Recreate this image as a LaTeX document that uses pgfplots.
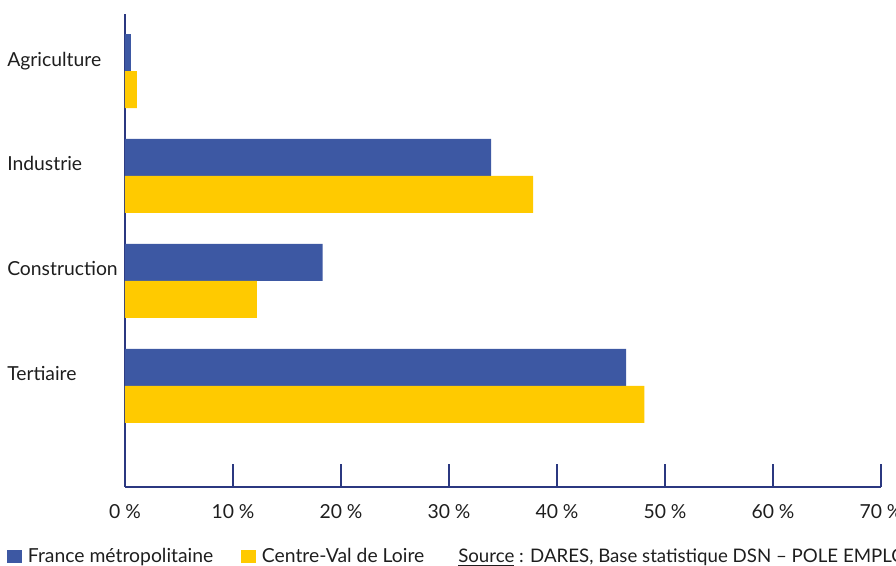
\documentclass[border=0pt]{standalone}
\usepackage{fontspec}
\setmainfont{Lato}
\usepackage{pgfplots}
\pgfplotsset{compat=1.18}
\definecolor{fblue}{HTML}{3D58A3}
\definecolor{cyellow}{HTML}{FFCA00}
\definecolor{navy}{HTML}{2B3880}
\definecolor{txt}{HTML}{1E1E1E}
\begin{document}
\fontsize{14.5}{16}\selectfont
\begin{tikzpicture}[font=\fontsize{14.5}{16}\selectfont, text=txt]
\begin{axis}[
  name=ax, scale only axis, width=567pt, height=354.75pt,
  xbar, bar width=27.75pt,
  xmin=0, xmax=70, ymin=-0.962, ymax=3.543,
  axis lines=left, axis line style={-, navy, line width=1.9pt},
  tick align=inside, major tick length=17.6pt,
  xtick={0,10,...,70},
  xticklabels={0 \%,10 \%,20 \%,30 \%,40 \%,50 \%,60 \%,70 \%},
  x tick style={navy, line width=1.8pt},
  ytick={0,1,2,3},
  yticklabels={Tertiaire,Construction,Industrie,Agriculture},
  y tick style={draw=none},
  xticklabel style={anchor=base, inner sep=0pt, yshift=-24pt},
  yticklabel style={anchor=base west, inner sep=0pt, xshift=-88.5pt, yshift=3.75pt},
  legend columns=2,
  legend style={at={(rel axis cs:0,0)}, anchor=north west, xshift=-88.5pt, yshift=-44pt,
    draw=none, fill=none, inner sep=0pt,
    /tikz/every even column/.append style={column sep=19pt}},
  legend image code/.code={\fill[#1] (0pt,-4.75pt) rectangle (11.25pt,5.25pt); \path (13.5pt,0pt);},
]
\addplot[fill=fblue, draw=none, bar shift=13.875pt] coordinates {(46.4,0) (18.3,1) (33.9,2) (0.55,3)};
\addplot[fill=cyellow, draw=none, bar shift=-13.875pt] coordinates {(48.1,0) (12.2,1) (37.8,2) (1.1,3)};
\legend{France métropolitaine, Centre-Val de Loire}
\coordinate (bl) at (rel axis cs:0,0);
\end{axis}
\node[anchor=base west, inner sep=0pt, font=\fontsize{14}{16}\selectfont] at ([xshift=249.75pt,yshift=-57pt]bl) {\underline{Source} : DARES, Base statistique DSN – POLE EMPLOI};
\pgfresetboundingbox
\useasboundingbox ([xshift=-93.75pt,yshift=-59.25pt]bl) rectangle ++(672pt,424.5pt);
\end{tikzpicture}
\end{document}
